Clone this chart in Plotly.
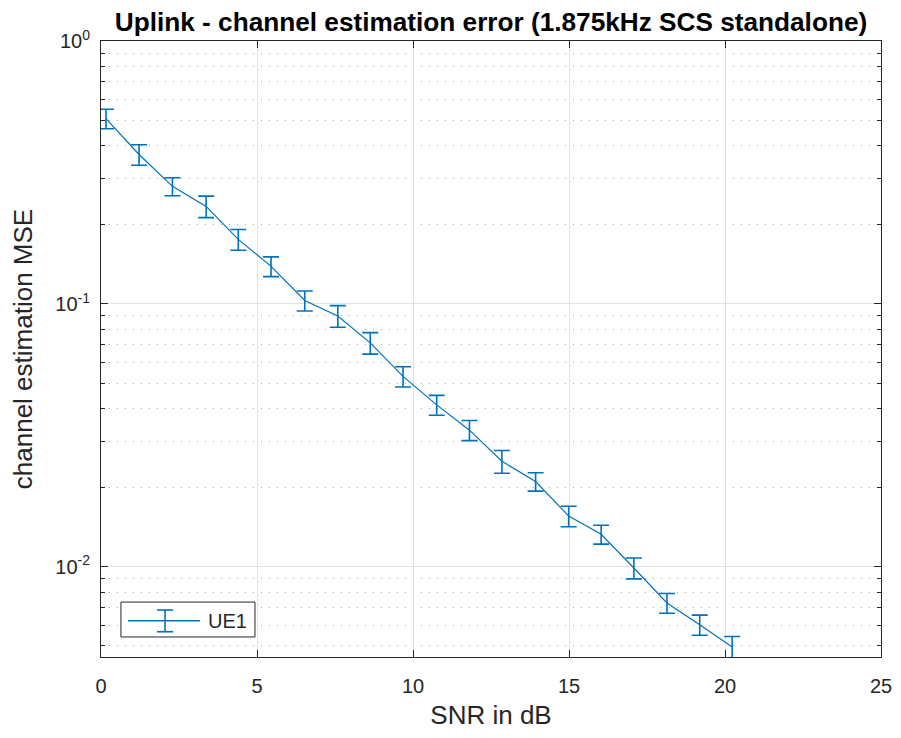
import plotly.graph_objects as go
import numpy as np

snr_db = [0.16, 1.22, 2.29, 3.37, 4.40, 5.45, 6.53, 7.59, 8.63, 9.68,
          10.76, 11.81, 12.85, 13.93, 14.99, 16.03, 17.08, 18.14, 19.19, 20.23]
mse = [0.507, 0.370, 0.280, 0.235, 0.176, 0.139, 0.103, 0.090, 0.0711, 0.053,
       0.0413, 0.0331, 0.0252, 0.0211, 0.0156, 0.0133, 0.0099, 0.00729, 0.00602, 0.00496]
mse_err = [0.043, 0.033, 0.022, 0.022, 0.016, 0.012, 0.009, 0.0085, 0.0067, 0.0047,
           0.0036, 0.0029, 0.0025, 0.0017, 0.0014, 0.0011, 0.0009, 0.00063, 0.00053, 0.00047]

x_ticks = [0, 5, 10, 15, 20, 25]
y_ticks = [1, 0.1, 0.01]
y_tick_text = ["10<sup>0</sup>", "10<sup>-1</sup>", "10<sup>-2</sup>"]
y_minor = [0.005, 0.006, 0.007, 0.008, 0.009,
           0.02, 0.03, 0.04, 0.05, 0.06, 0.07, 0.08, 0.09,
           0.2, 0.3, 0.4, 0.5, 0.6, 0.7, 0.8, 0.9]
series_name = "UE1"

BLUE = "#0072BD"
AX = "#262626"
FONT = "Liberation Sans, Arial, Helvetica, sans-serif"

fig = go.Figure()
fig.add_trace(go.Scatter(
    x=snr_db, y=mse, mode="lines", name=series_name,
    line=dict(color=BLUE, width=1.2),
    error_y=dict(type="data", array=mse_err, visible=True,
                 color=BLUE, thickness=1.6, width=8),
    showlegend=False,
))

# page body has an 8px default margin, so the figure is sized/offset to compensate
fig.update_layout(
    width=885, height=722,
    margin=dict(l=93, r=12, t=33, b=73, autoexpand=False),
    paper_bgcolor="white", plot_bgcolor="white",
    font=dict(family=FONT, color=AX, size=20),
    title=dict(text="<b>Uplink - channel estimation error (1.875kHz SCS standalone)</b>",
               x=0.5, xanchor="center", xref="paper", y=0.994, yanchor="top",
               font=dict(size=26.2, color="#000000", family=FONT)),
    xaxis=dict(
        range=[0, 25], tickmode="array", tickvals=x_ticks, automargin=False,
        ticks="inside", ticklen=7, tickwidth=1, tickcolor=AX,
        showline=True, linecolor=AX, linewidth=1, mirror="ticks",
        showgrid=True, gridcolor="#e2e2e2", gridwidth=1, zeroline=False,
        tickfont=dict(size=20, color=AX), ticklabelstandoff=11,
        title=dict(text="SNR in dB", font=dict(size=26, color=AX), standoff=21),
    ),
    yaxis=dict(
        type="log", range=[np.log10(0.00454), 0], automargin=False,
        tickmode="array", tickvals=y_ticks, ticktext=y_tick_text,
        ticks="inside", ticklen=7, tickwidth=1, tickcolor=AX,
        showline=True, linecolor=AX, linewidth=1, mirror="ticks",
        showgrid=True, gridcolor="#e2e2e2", gridwidth=1, zeroline=False,
        tickfont=dict(size=20, color=AX), ticklabelstandoff=6,
        minor=dict(tickmode="array", tickvals=y_minor, ticks="inside", ticklen=4,
                   tickcolor=AX, showgrid=True, gridcolor="#a8a8a8",
                   griddash="1px,7px", gridwidth=1),
        title=dict(text="channel estimation MSE", font=dict(size=26, color=AX), standoff=18),
    ),
)

# Manual legend (box, line with error-bar glyph, label)
lx0, lx1, ly0, ly1 = 0.0256, 0.1974, 0.0325, 0.0892
ly = 0.0589
ex = 0.0821
cap = 0.0103
fig.add_shape(type="rect", xref="paper", yref="paper", x0=lx0, x1=lx1, y0=ly0, y1=ly1,
              line=dict(color=AX, width=1), fillcolor="white", layer="above")
fig.add_shape(type="line", xref="paper", yref="paper", x0=0.0346, x1=0.1269, y0=ly, y1=ly,
              line=dict(color=BLUE, width=1.4), layer="above")
fig.add_shape(type="line", xref="paper", yref="paper", x0=ex, x1=ex, y0=0.041, y1=0.0763,
              line=dict(color=BLUE, width=1.6), layer="above")
fig.add_shape(type="line", xref="paper", yref="paper", x0=ex - cap, x1=ex + cap, y0=0.041, y1=0.041,
              line=dict(color=BLUE, width=1.6), layer="above")
fig.add_shape(type="line", xref="paper", yref="paper", x0=ex - cap, x1=ex + cap, y0=0.0763, y1=0.0763,
              line=dict(color=BLUE, width=1.6), layer="above")
fig.add_annotation(xref="paper", yref="paper", x=0.1346, y=ly, text=series_name,
                   showarrow=False, xanchor="left", yanchor="middle",
                   font=dict(size=20, color=AX, family=FONT))

fig.write_html("out.html")
